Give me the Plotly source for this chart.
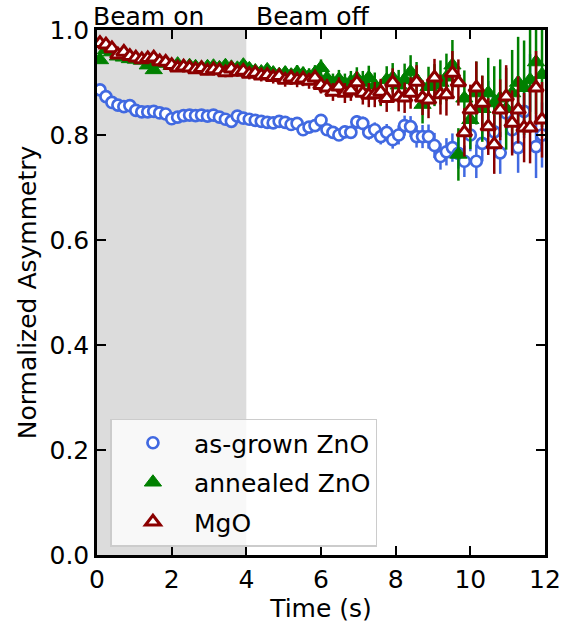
import plotly.graph_objects as go

time_s = [0.08, 0.24, 0.40, 0.56, 0.72, 0.88, 1.04, 1.20, 1.36, 1.52, 1.68, 1.84, 2.00, 2.16, 2.32,
          2.48, 2.64, 2.80, 2.96, 3.12, 3.28, 3.44, 3.60, 3.76, 3.92, 4.08, 4.24, 4.40, 4.56, 4.72,
          4.88, 5.04, 5.20, 5.36, 5.52, 5.68, 5.84, 6.00, 6.16, 6.32, 6.48, 6.64, 6.80, 6.96, 7.12,
          7.28, 7.44, 7.60, 7.76, 7.92, 8.08, 8.24, 8.40, 8.56, 8.72, 8.88, 9.04, 9.20, 9.36, 9.52,
          9.68, 9.84, 10.00, 10.16, 10.32, 10.48, 10.64, 10.80, 10.96, 11.12, 11.28, 11.44, 11.60, 11.76, 11.92]

asgrown = [0.886, 0.873, 0.862, 0.857, 0.854, 0.856, 0.847, 0.844, 0.844, 0.845, 0.842, 0.840, 0.831, 0.834, 0.837,
           0.838, 0.837, 0.838, 0.836, 0.838, 0.834, 0.830, 0.826, 0.836, 0.832, 0.830, 0.828, 0.826, 0.824, 0.823,
           0.826, 0.824, 0.820, 0.822, 0.810, 0.815, 0.818, 0.828, 0.810, 0.805, 0.800, 0.806, 0.805, 0.825, 0.822,
           0.805, 0.810, 0.797, 0.805, 0.791, 0.800, 0.818, 0.816, 0.797, 0.797, 0.797, 0.780, 0.759, 0.768, 0.776,
           0.765, 0.750, 0.800, 0.750, 0.784, 0.867, 0.806, 0.766, 0.842, 0.810, 0.776, 0.845, 0.899, 0.778, 0.800]
asgrown_err = [0.004, 0.004, 0.004, 0.004, 0.004, 0.004, 0.004, 0.004, 0.005, 0.005, 0.005, 0.005, 0.005, 0.005, 0.005,
               0.005, 0.005, 0.006, 0.006, 0.006, 0.006, 0.006, 0.006, 0.006, 0.007, 0.007, 0.007, 0.007, 0.007, 0.008,
               0.008, 0.008, 0.008, 0.009, 0.009, 0.009, 0.010, 0.010, 0.010, 0.011, 0.011, 0.012, 0.012, 0.013, 0.013,
               0.014, 0.014, 0.015, 0.016, 0.017, 0.018, 0.019, 0.020, 0.021, 0.022, 0.023, 0.024, 0.025, 0.026, 0.027,
               0.029, 0.030, 0.031, 0.032, 0.034, 0.036, 0.038, 0.040, 0.042, 0.045, 0.048, 0.051, 0.055, 0.060, 0.062]

annealed = [0.943, 0.962, 0.958, 0.950, 0.948, 0.945, 0.944, 0.942, 0.933, 0.924, 0.938, 0.936, 0.932, 0.935, 0.930,
            0.932, 0.930, 0.928, 0.930, 0.931, 0.928, 0.932, 0.929, 0.927, 0.933, 0.926, 0.922, 0.920, 0.924, 0.918,
            0.915, 0.918, 0.914, 0.919, 0.916, 0.912, 0.918, 0.928, 0.908, 0.900, 0.906, 0.898, 0.902, 0.908, 0.900,
            0.909, 0.895, 0.880, 0.905, 0.909, 0.895, 0.905, 0.920, 0.905, 0.858, 0.892, 0.895, 0.900, 0.910, 0.933,
            0.763, 0.870, 0.829, 0.880, 0.850, 0.880, 0.861, 0.870, 0.850, 0.880, 0.900, 0.890, 0.905, 0.939, 0.915]
annealed_err = [0.005, 0.005, 0.005, 0.005, 0.005, 0.005, 0.006, 0.006, 0.006, 0.006, 0.006, 0.006, 0.007, 0.007, 0.007,
                0.007, 0.007, 0.008, 0.008, 0.008, 0.008, 0.009, 0.009, 0.009, 0.010, 0.010, 0.010, 0.011, 0.011, 0.012,
                0.012, 0.013, 0.013, 0.014, 0.014, 0.015, 0.015, 0.016, 0.017, 0.017, 0.018, 0.019, 0.020, 0.021, 0.022,
                0.023, 0.024, 0.025, 0.026, 0.028, 0.029, 0.031, 0.032, 0.034, 0.036, 0.038, 0.040, 0.042, 0.045, 0.048,
                0.050, 0.053, 0.056, 0.060, 0.063, 0.067, 0.070, 0.074, 0.078, 0.082, 0.087, 0.090, 0.095, 0.100, 0.100]

mgo = [0.975, 0.972, 0.965, 0.953, 0.958, 0.950, 0.947, 0.944, 0.946, 0.947, 0.940, 0.939, 0.933, 0.928, 0.930,
       0.928, 0.925, 0.927, 0.922, 0.925, 0.923, 0.919, 0.926, 0.920, 0.922, 0.916, 0.918, 0.913, 0.914, 0.910,
       0.912, 0.905, 0.909, 0.905, 0.907, 0.903, 0.909, 0.895, 0.890, 0.882, 0.892, 0.880, 0.885, 0.900, 0.880,
       0.876, 0.877, 0.882, 0.870, 0.900, 0.873, 0.871, 0.880, 0.901, 0.871, 0.867, 0.909, 0.877, 0.877, 0.918,
       0.900, 0.805, 0.848, 0.890, 0.861, 0.816, 0.782, 0.848, 0.873, 0.823, 0.848, 0.814, 0.814, 0.890, 0.829]
mgo_err = [0.005, 0.005, 0.005, 0.005, 0.005, 0.005, 0.006, 0.006, 0.006, 0.006, 0.006, 0.006, 0.007, 0.007, 0.007,
           0.007, 0.007, 0.008, 0.008, 0.008, 0.008, 0.009, 0.009, 0.009, 0.010, 0.010, 0.010, 0.011, 0.011, 0.012,
           0.012, 0.013, 0.013, 0.014, 0.014, 0.015, 0.015, 0.016, 0.017, 0.017, 0.018, 0.019, 0.020, 0.021, 0.022,
           0.023, 0.024, 0.025, 0.026, 0.027, 0.028, 0.029, 0.030, 0.032, 0.033, 0.035, 0.036, 0.038, 0.040, 0.042,
           0.044, 0.046, 0.048, 0.050, 0.052, 0.054, 0.056, 0.058, 0.060, 0.062, 0.064, 0.066, 0.068, 0.070, 0.072]

x_ticks = [0, 2, 4, 6, 8, 10, 12]
y_ticks = [0.0, 0.2, 0.4, 0.6, 0.8, 1.0]
beam_on_window = [0, 4]
x_range = [0, 12]

FONT = "DejaVu Sans"
FS = 25
fig = go.Figure()

fig.add_trace(go.Scatter(
    x=time_s, y=asgrown, mode="markers", name="as-grown ZnO", legendgroup="a",
    marker=dict(symbol="circle", size=11, color="white", line=dict(color="#4169E1", width=2.7)),
    error_y=dict(type="data", array=asgrown_err, color="#4169E1", thickness=2.5, width=0),
))
fig.add_trace(go.Scatter(
    x=time_s, y=annealed, mode="markers", name="annealed ZnO", legendgroup="b",
    marker=dict(symbol="triangle-up", size=15, color="#008000", line=dict(color="#008000", width=1)),
    error_y=dict(type="data", array=annealed_err, color="#008000", thickness=2.5, width=0),
))
fig.add_trace(go.Scatter(
    x=time_s, y=mgo, mode="markers", name="MgO", legendgroup="c",
    marker=dict(symbol="triangle-up", size=13, color="white", line=dict(color="#8B0000", width=3)),
    error_y=dict(type="data", array=mgo_err, color="#8B0000", thickness=2.5, width=0),
))

fig.add_shape(type="rect", xref="x", yref="paper", x0=beam_on_window[0], x1=beam_on_window[1],
              y0=0, y1=1, fillcolor="#dcdcdc", line=dict(width=0), layer="below")

span = x_range[1] - x_range[0]
fig.add_annotation(text="Beam on", x=(-0.15 - x_range[0]) / span, y=1.0, xref="paper", yref="paper",
                   xanchor="left", yanchor="bottom", showarrow=False,
                   font=dict(family=FONT, size=FS, color="black"), yshift=-3)
fig.add_annotation(text="Beam off", x=(4.2 - x_range[0]) / span, y=1.0, xref="paper", yref="paper",
                   xanchor="left", yanchor="bottom", showarrow=False,
                   font=dict(family=FONT, size=FS, color="black"), yshift=-3)

axis_common = dict(showline=True, linecolor="black", linewidth=2.5, mirror="ticks", ticks="inside",
                   ticklen=9, tickwidth=2, tickcolor="black", showgrid=False, zeroline=False,
                   tickfont=dict(family=FONT, size=FS, color="black"))

fig.update_xaxes(range=x_range, tickvals=x_ticks,
                 title=dict(text="Time (s)", font=dict(family=FONT, size=FS, color="black"), standoff=4),
                 **axis_common)
fig.update_yaxes(range=[0, 1], tickvals=y_ticks, tickformat=".1f",
                 title=dict(text="Normalized Asymmetry", font=dict(family=FONT, size=FS, color="black"), standoff=6),
                 **axis_common)

fig.update_layout(
    width=575, height=627, margin=dict(l=97, r=30, t=30, b=70),
    plot_bgcolor="white", paper_bgcolor="white",
    font=dict(family=FONT, size=FS, color="black"),
    showlegend=True,
    legend=dict(x=0.03, y=0.26, xanchor="left", yanchor="top", bgcolor="rgba(255,255,255,0.8)",
                bordercolor="#cccccc", borderwidth=1.5, tracegroupgap=4, itemwidth=72,
                font=dict(family=FONT, size=FS, color="black")),
)

fig.write_html("out.html")
